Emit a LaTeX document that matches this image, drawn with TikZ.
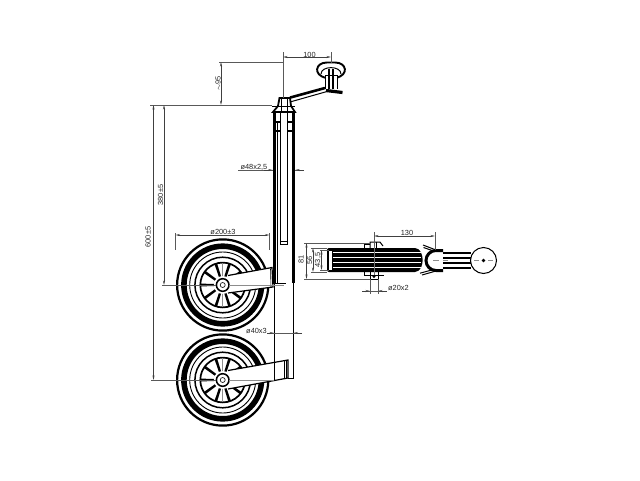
\documentclass[tikz,border=0pt]{standalone}
\usepackage{fontspec}
\setmainfont{Liberation Sans}
\usetikzlibrary{arrows.meta}
\tikzset{
 tipd/.tip={Stealth[length=4.5pt,width=2pt]},
 dimline/.style={draw=black!75,line width=.55pt,tipd-tipd},
 dimhalf/.style={draw=black!75,line width=.55pt,-tipd},
 extline/.style={draw=black!65,line width=.55pt},
 dimtext/.style={font=\fontsize{7.4}{8}\selectfont,text=black!85,inner sep=0pt},
 center/.style={draw=black!45,line width=.6pt}
}
\newcommand{\jwheel}[2]{%
 \begin{scope}[shift={(#1,#2)}]
  \fill[white] (0,0) circle (47);
  \draw[line width=2.2pt] (0,0) circle (45.6);
  \draw[line width=5.6pt] (0,0) circle (38.8);
  \draw[line width=.9pt] (0,0) circle (33);
  \draw[line width=1.5pt] (0,0) circle (27.8);
  \draw[line width=1.7pt] (0,0) circle (22.4);
  \foreach \a in {0,36,...,324}{
   \fill[black] (\a-8:8) -- (\a+8:8) -- (\a+3.5:22) -- (\a-3.5:22) -- cycle;
  }
  \fill[white] (0,0) circle (8.8);
  \draw[line width=1.5pt] (0,0) circle (6.3);
  \draw[line width=.6pt] (0,0) circle (2.5);
 \end{scope}}
\begin{document}
\begin{tikzpicture}[x=1pt,y=-1pt]
\useasboundingbox (0,0) rectangle (640,480);
\fill[white] (0,0) rectangle (640,480);

% wheels
\jwheel{222.7}{285}
\jwheel{222.7}{380}
\draw[center] (222.7,263) -- (222.7,307);
\draw[center] (222.7,358) -- (222.7,402);

% lower inner tube
\draw[line width=1pt] (274,283) -- (274,381);
\draw[line width=1pt] (293,283) -- (293,379);
% outer tube
\draw[line width=3.8pt] (274.4,112) -- (274.4,283);
\draw[line width=3.8pt] (293.4,112) -- (293.4,283);
\draw[line width=.8pt] (277.5,122) -- (277.5,283);
% spindle
\draw[line width=1pt] (280,105) -- (280,244) -- (287,244) -- (287,105);
\draw[line width=.8pt] (280.5,241) -- (286.5,241);
\draw[line width=1pt] (273,283) -- (286,283);
% head
\draw[line width=1.8pt,fill=white] (273,112) -- (278,106) -- (279.5,98) -- (290,98) -- (291,106) -- (295,112) -- cycle;
\draw[line width=1.4pt] (276,122) -- (279.5,122);
\draw[line width=1.4pt] (287.5,122) -- (291.5,122);
\draw[line width=1.4pt] (276,131) -- (279.5,131);
\draw[line width=1.4pt] (287.5,131) -- (291.5,131);
\draw[line width=.9pt] (272,106) -- (295,106);
\draw[line width=.9pt] (281,98) -- (281,112);
\draw[line width=.9pt] (287,98) -- (287,112);

% crank
\draw[line width=2.6pt] (290,97.6) -- (325,88);
\draw[line width=1pt] (290,102) -- (327,91.5);
\draw[line width=3.2pt] (326,90.5) -- (342.5,92.5);
% knob
\draw[line width=1.9pt,fill=white] (326,78) .. controls (313,75) and (315,62.5) .. (327,62.5) -- (335,62.5) .. controls (347,62.5) and (349,75) .. (336,78) -- cycle;
\draw[line width=1pt] (321,74) .. controls (321,65.5) and (341,65.5) .. (341,74);
\draw[line width=1pt,fill=white] (325,89) -- (325,75) -- (337,75) -- (337,89);
\draw[line width=1.2pt] (329,69) -- (329,89);
\draw[line width=1.2pt] (333,69) -- (333,89);

% fork arms
\draw[line width=1.2pt,fill=white] (228,275.5) -- (272,267.5) -- (273,287) -- (228,293);
\draw[line width=.6pt] (270.5,268.5) -- (271,287);
\draw[line width=1.2pt,fill=white] (228,370.5) -- (288,360) -- (288,378) -- (228,389);
\draw[line width=.8pt] (284,361) -- (284,379);
\draw[line width=.8pt] (286,360.5) -- (286,378.5);
\draw[line width=1pt] (274,362.5) -- (274,381);
\draw[line width=1pt] (288,378.7) -- (293.5,378.7);
% wheel hubs over arms
\foreach \cy in {285,380}{
 \fill[white] (222.7,\cy) circle (8.8);
 \draw[line width=1.5pt] (222.7,\cy) circle (6.3);
 \draw[line width=.6pt] (222.7,\cy) circle (2.5);
}

% right view: tread
\fill[black,rounded corners=2pt] (327,248) -- (417,248) .. controls (424,254) and (424,266) .. (417,272) -- (327,272) -- cycle;
\foreach \yy in {252.2,257.2,262.2,267.2}{
 \draw[white,line width=1.1pt] (333,\yy) -- (421,\yy);
}
\fill[white] (329.3,251) rectangle (331.5,269.5);
\draw[black!55,line width=.5pt] (374,246) -- (374,275);
% axle clamps
\draw[line width=1pt] (364,248) -- (364,244.5) -- (370,244.5);
\draw[line width=1pt] (370,248) -- (370,242) -- (380,242) -- (383,246);
\draw[line width=1pt] (376,242) -- (376,248);
\draw[line width=1pt] (364,272) -- (364,275) -- (370,275);
\draw[line width=1pt] (370,272) -- (370,279.3) -- (378,279.3) -- (378,272);
\draw[line width=1pt] (370,275) -- (384,275);
\fill (374,276.5) circle (1.6);
% fork
\draw[line width=1pt] (423,245) -- (436,250);
\draw[line width=1pt] (423.5,247.5) -- (433,250.8);
\draw[line width=1pt] (422,275) -- (436,271);
\draw[line width=1pt] (420,273.2) -- (431,270.2);
\draw[line width=3pt] (443,250.5) -- (436,250.5) arc[start angle=270,delta angle=-180,radius=10] -- (443,270.5);
% ball arm
\foreach \yy/\w in {253/1.6,258/1.4,263/1.4,268/1.6}{\draw[line width=\w pt] (443,\yy) -- (471,\yy);}
\draw[line width=1pt,fill=white] (483.5,260.5) circle (13);
\fill (483.5,260.5) circle (1.8);
\draw[center] (433,260.5) -- (439,260.5);
\draw[center] (443,260.5) -- (448,260.5);
\draw[center] (474,260.5) -- (479,260.5);
\draw[center] (488,260.5) -- (493,260.5);

% dimensions
\draw[extline] (283,52) -- (283,98);
\draw[extline] (331,52) -- (331,63);
\draw[dimline] (283,57) -- (331,57);
\node[dimtext] (d100) at (309.5,54.5) {100};

\draw[extline] (219,62) -- (283,62);
\draw[extline] (150,105) -- (272,105);
\draw[dimline] (221,62) -- (221,105);
\node[dimtext,rotate=90] (d95) at (218,83.5) {$\sim$95};

\draw[dimline] (164,105) -- (164,285);
\draw[extline] (162,285) -- (216,285);
\draw[center] (229,285) -- (284,285);
\node[dimtext,rotate=90] (d380) at (160.5,195) {380±5};
\draw[dimline] (153.5,105) -- (153.5,380);
\draw[extline] (151,380) -- (216,380);
\draw[center] (229,380) -- (274,380);
\node[dimtext,rotate=90] (d600) at (148,237) {600±5};

\node[dimtext] (d200) at (223,232) {ø200±3};
\draw[dimline] (175.5,235) -- (269.5,235);
\draw[extline] (175.5,233) -- (175.5,250);
\draw[extline] (269.5,233) -- (269.5,250);

\node[dimtext,anchor=east] (d48) at (267.5,167) {ø48x2,5};
\draw[extline] (238,170) -- (273,170);
\draw[extline] (295,170) -- (304,170);
\draw[dimhalf] (264,170) -- (272.6,170);
\draw[dimhalf] (304,170) -- (295.3,170);

\node[dimtext,anchor=east] (d40) at (267,331) {ø40x3};
\draw[extline] (267,333) -- (302,333);
\draw[dimhalf] (267,333) -- (274,333);
\draw[dimhalf] (302,333) -- (293.5,333);

% right view dimensions
\draw[extline] (374,232) -- (374,246);
\draw[extline] (435,232) -- (435,250);
\draw[dimline] (374,236) -- (435,236);
\node[dimtext] (d130) at (407,233) {130};

\draw[extline] (304,243) -- (370,243);
\draw[extline] (304,279) -- (371,279);
\draw[dimline] (306.5,243) -- (306.5,279);
\node[dimtext,rotate=90] (d81) at (301,259.5) {81};
\draw[extline] (311,248) -- (327,248);
\draw[extline] (311,272) -- (327,272);
\draw[dimline] (313,248) -- (313,272);
\node[dimtext,rotate=90] (d56) at (309.5,260) {56};
\draw[extline] (320,250) -- (329,250);
\draw[extline] (320,270) -- (329,270);
\draw[dimline] (321.5,250) -- (321.5,270);
\node[dimtext,rotate=90] (d43) at (318,260) {43,5};

\draw[extline] (370,279) -- (370,294);
\draw[extline] (378,279) -- (378,294);
\draw[extline] (362,291) -- (387,291);
\draw[dimhalf] (362,291) -- (370,291);
\draw[dimhalf] (387,291) -- (378,291);
\node[dimtext,anchor=west] (d20) at (388,288) {ø20x2};
\end{tikzpicture}
\end{document}
